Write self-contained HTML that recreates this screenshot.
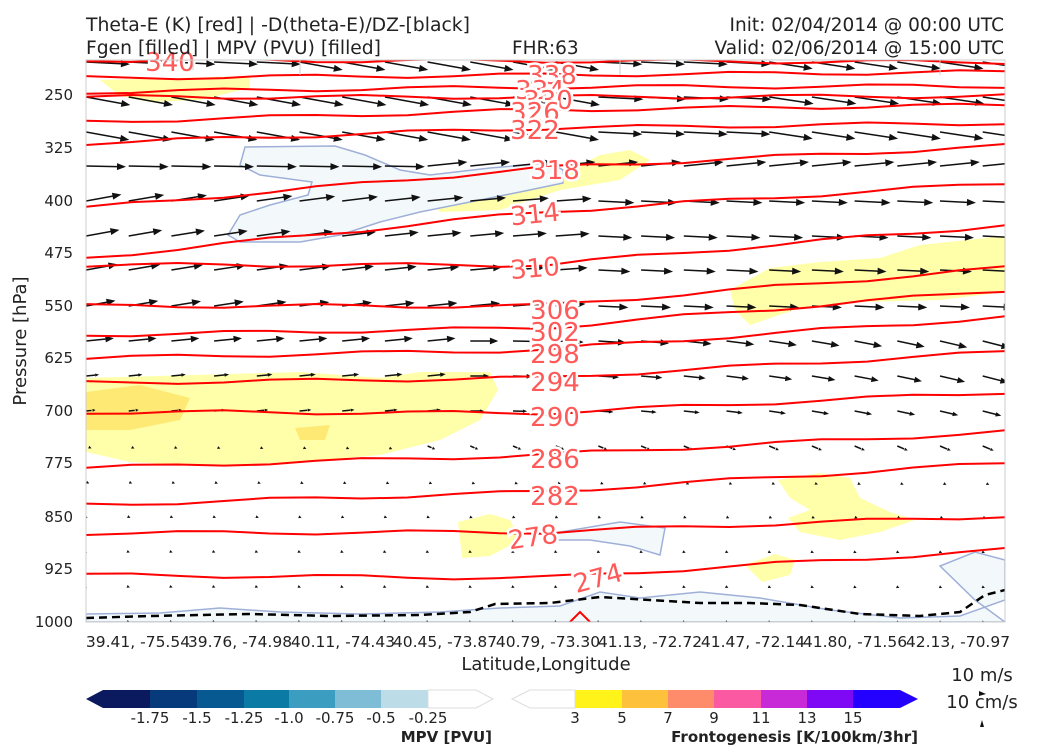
<!DOCTYPE html>
<html><head><meta charset="utf-8"><style>
body{margin:0;background:#fff}
svg text{font-family:"DejaVu Sans","Liberation Sans",sans-serif}
</style></head><body>
<svg id="s" width="1050" height="750" xmlns="http://www.w3.org/2000/svg">
<rect width="1050" height="750" fill="#fff"/>
<defs><clipPath id="c"><rect x="86" y="60" width="919" height="562"/></clipPath></defs>
<g clip-path="url(#c)">
<g fill="#ffffa0" opacity="0.9">
<path d="M100,80 L250,76 L250,88 L200,100 L150,102 L120,96 Z"/>
<path d="M430,200 L520,185 L560,175 L600,155 L630,150 L650,160 L620,180 L560,190 L500,210 L440,212 Z"/>
<path d="M86,378 L300,372 L380,378 L420,372 L490,372 L498,390 L480,420 L440,440 L380,455 L300,462 L200,466 L130,462 L86,452 Z"/>
<path d="M730,290 L770,268 L820,262 L880,258 L920,245 L1005,236 L1005,292 L940,300 L860,302 L800,308 L750,325 L735,310 Z"/>
<path d="M778,480 L820,473 L850,478 L860,498 L890,512 L915,520 L880,532 L840,540 L800,532 L788,518 L810,510 L790,498 Z"/>
<path d="M458,522 L490,514 L510,520 L520,540 L490,556 L462,558 Z"/>
<path d="M745,565 L775,554 L795,560 L790,575 L762,582 Z"/>
</g>
<path d="M86,392 L140,385 L190,398 L180,420 L130,430 L86,430 Z" fill="#ffe060" opacity="0.7"/>
<path d="M295,428 L330,425 L325,440 L300,440 Z" fill="#ffe060" opacity="0.7"/>
<g fill="#f3f9fa" stroke="#9fb0d8" stroke-width="1.5">
<path d="M245,147 L335,146 L365,155 L400,170 L430,175 L490,168 L550,163 L563,170 L563,183 L520,192 L480,200 L420,212 L380,222 L340,235 L300,242 L240,242 L228,235 L240,215 L270,205 L308,195 L312,182 L260,175 L240,165 Z"/>
<path d="M555,533 L620,522 L665,528 L660,555 L630,546 L590,540 L555,540 Z"/>
<path d="M86,614 L160,613 L220,608 L280,612 L360,614 L440,612 L500,608 L560,606 L600,592 L640,598 L700,592 L760,598 L830,610 L900,618 L960,616 L1005,600 L1005,560 L975,552 L940,566 L975,600 L1005,622 L86,622 Z"/>
</g>
<path d="M86,618 L150,616 L250,614 L330,616 L420,615 L470,612 L495,604 L550,603 L600,597 L650,600 L700,603 L750,603 L800,605 L860,614 L920,616 L960,612 L985,595 L1005,590" fill="none" stroke="#000" stroke-width="2.5" stroke-dasharray="8,5"/>
<path d="M570,622 L580,612 L590,622" fill="none" stroke="#f00" stroke-width="2"/>
<g id="arrows" stroke="#111" fill="#111"></g>
<g id="reds" fill="none" stroke="#f00" stroke-width="2"></g>
</g>
<g id="lbl" fill="#ff5a5a" font-size="26" text-anchor="middle" stroke="#fff" stroke-width="5" paint-order="stroke"></g>
<rect x="86" y="60" width="919" height="562" fill="none" stroke="#ccc" stroke-width="1"/>
<g stroke="#ccc"><line x1="300" y1="60" x2="300" y2="75"/><line x1="620" y1="60" x2="620" y2="75"/><line x1="940" y1="60" x2="940" y2="75"/><line x1="193" y1="60" x2="193" y2="70"/></g>
<g font-size="18.5" fill="#222">
<text x="86" y="31" textLength="384" lengthAdjust="spacingAndGlyphs">Theta-E (K) [red] | -D(theta-E)/DZ-[black]</text>
<text x="86" y="54" textLength="295" lengthAdjust="spacingAndGlyphs">Fgen [filled] | MPV (PVU) [filled]</text>
<text x="512" y="54">FHR:63</text>
<text x="1004" y="31" text-anchor="end">Init: 02/04/2014 @ 00:00 UTC</text>
<text x="1004" y="54" text-anchor="end">Valid: 02/06/2014 @ 15:00 UTC</text>
</g>
<g font-size="15" fill="#222" text-anchor="end">
<text x="73" y="100">250</text><text x="73" y="153">325</text><text x="73" y="206">400</text><text x="73" y="258">475</text><text x="73" y="311">550</text><text x="73" y="363">625</text><text x="73" y="416">700</text><text x="73" y="468">775</text><text x="73" y="522">850</text><text x="73" y="574">925</text><text x="73" y="627">1000</text>
</g>
<text transform="translate(26,341) rotate(-90)" font-size="18" fill="#222" text-anchor="middle">Pressure [hPa]</text>
<g font-size="15.5" fill="#222" text-anchor="middle">
<text x="138" y="647">39.41, -75.54</text><text x="240" y="647">39.76, -74.98</text><text x="343" y="647">40.11, -74.43</text><text x="445" y="647">40.45, -73.87</text><text x="548" y="647">40.79, -73.30</text><text x="650" y="647">41.13, -72.72</text><text x="753" y="647">41.47, -72.14</text><text x="855" y="647">41.80, -71.56</text><text x="958" y="647">42.13, -70.97</text>
</g>
<text x="546" y="670" font-size="18" fill="#222" text-anchor="middle">Latitude,Longitude</text>
<g stroke="none">
<polygon points="86,699 103,690 103,708" fill="#0b1a5e"/>
<rect x="103" y="690" width="47" height="18" fill="#0b1a5e"/>
<rect x="150" y="690" width="47" height="18" fill="#063a7a"/>
<rect x="197" y="690" width="47" height="18" fill="#065a91"/>
<rect x="244" y="690" width="45" height="18" fill="#0b7ba6"/>
<rect x="289" y="690" width="46" height="18" fill="#3b9dc0"/>
<rect x="335" y="690" width="46" height="18" fill="#7fbcd6"/>
<rect x="381" y="690" width="47" height="18" fill="#bcdde7"/>
<rect x="575" y="690" width="47" height="18" fill="#fff31a"/>
<rect x="622" y="690" width="46" height="18" fill="#fdc13c"/>
<rect x="668" y="690" width="46" height="18" fill="#fe8c6a"/>
<rect x="714" y="690" width="47" height="18" fill="#fb5aa3"/>
<rect x="761" y="690" width="46" height="18" fill="#c72ad6"/>
<rect x="807" y="690" width="46" height="18" fill="#7f08f5"/>
<rect x="853" y="690" width="47" height="18" fill="#2400ff"/>
<polygon points="900,690 918,699 900,708" fill="#2400ff"/>
</g>
<polygon points="428,690 476,690 493,699 476,708 428,708" fill="#fff" stroke="#ddd"/>
<polygon points="512,699 530,690 575,690 575,708 530,708" fill="#fff" stroke="#ddd"/>
<g font-size="15" fill="#222" text-anchor="middle">
<text x="150" y="723">-1.75</text><text x="197" y="723">-1.5</text><text x="244" y="723">-1.25</text><text x="289" y="723">-1.0</text><text x="335" y="723">-0.75</text><text x="381" y="723">-0.5</text><text x="428" y="723">-0.25</text>
<text x="575" y="723">3</text><text x="622" y="723">5</text><text x="668" y="723">7</text><text x="714" y="723">9</text><text x="761" y="723">11</text><text x="807" y="723">13</text><text x="853" y="723">15</text>
</g>
<g font-size="15" font-weight="bold" fill="#222" text-anchor="end">
<text x="492" y="742">MPV [PVU]</text><text x="918" y="742">Frontogenesis [K/100km/3hr]</text>
</g>
<g font-size="18" fill="#222" text-anchor="middle"><text x="982" y="681">10 m/s</text><text x="982" y="708">10 cm/s</text></g>
<polygon points="979,691 986,694 979,696" fill="#111"/>
<polygon points="980,727 982,720 984,727" fill="#111"/>
</svg>
<script>
var NS="http://www.w3.org/2000/svg";
function el(p,t,a){var e=document.createElementNS(NS,t);for(var k in a)e.setAttribute(k,a[k]);p.appendChild(e);return e;}
var A=document.getElementById("arrows");
var rows=[62,97,132,166,201,236,270,306,341,376,411,446,482,517,552,587,622];
var lens=[44,45,44,40,36,34,32,30,28,22,16,10,6,3,2,2,2];
for(var r=0;r<rows.length;r++){for(var c=0;c<22;c++){
 var x0=86+c*42.7, y0=rows[r];
 var L=lens[r]*(r>8?(0.6+0.6*c/21):1);
 var ang;
 if(r<3) ang=c<12?0.18:(c<16?0.05:0.15); else if(r<4) ang=c<8?0.02:-0.1; else if(r<8) ang=c<12?-0.18+0.01*c:0.05; else if(r<11) ang=c<9?-0.1:0.25*(c-9)/12; else ang=0.4;
 if(r===0 && c<5) ang=0.05;
 var x1=x0+L*Math.cos(ang), y1=y0+L*Math.sin(ang);
 if(L>8) el(A,"line",{x1:x0,y1:y0,x2:x1-4*Math.cos(ang),y2:y1-4*Math.sin(ang),"stroke-width":1.5});
 var h=Math.max(3,Math.min(9,L*0.3)), w=Math.max(1.5,Math.min(3.5,L*0.12));
 var ca=Math.cos(ang), sa=Math.sin(ang);
 el(A,"polygon",{points:x1+","+y1+" "+(x1-h*ca-w*sa)+","+(y1-h*sa+w*ca)+" "+(x1-h*ca+w*sa)+","+(y1-h*sa-w*ca),stroke:"none"});
}}
var R=document.getElementById("reds"),Lb=document.getElementById("lbl");
var lines=[[340,60,61,62,170,62,0],[338,78,75,72,552,75,0],[334,92,87,86,540,90,0],[330,97,97,96,548,100,0],[326,122,110,105,535,112,0],[322,143,128,123,535,130,0],[318,208,168,146,555,170,0],[314,258,212,183,535,214,-6],[310,265,265,225,535,268,-5],[306,306,306,268,555,310,0],[302,335,328,290,555,332,0],[298,358,350,317,555,354,0],[294,383,378,352,555,382,0],[290,412,413,392,555,417,0],[286,468,455,432,555,459,0],[282,505,492,463,555,496,0],[278,533,532,516,533,537,-8],[274,575,578,550,598,578,-15]];
lines.forEach(function(l){
 var pts=[];for(var i=0;i<=20;i++){var x=86+i*919/20,t=(x-86)/(540-86),y;
  if(x<540) y=l[1]+(l[2]-l[1])*t; else y=l[2]+(l[3]-l[2])*(x-540)/(1005-540);
  y+=2*Math.sin(i*1.3+l[0]);pts.push(x.toFixed(1)+","+y.toFixed(1));}
 el(R,"polyline",{points:pts.join(" ")});
 var tx=el(Lb,"text",{x:l[4],y:l[5]+9,transform:"rotate("+l[6]+" "+l[4]+" "+l[5]+")"});tx.textContent=l[0];
});
</script>
</body></html>
